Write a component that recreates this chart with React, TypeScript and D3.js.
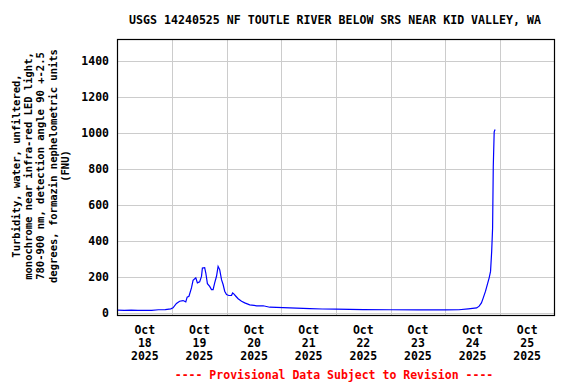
import React from "react";
import * as d3 from "d3";

const TITLE = "USGS 14240525 NF TOUTLE RIVER BELOW SRS NEAR KID VALLEY, WA";
const Y_LABEL_LINES = [
  "Turbidity, water, unfiltered,",
  "monochrome near infra-red LED light,",
  "780-900 nm, detection angle 90 +-2.5",
  "degrees, formazin nephelometric units",
  "(FNU)",
];
const FOOTNOTE = "---- Provisional Data Subject to Revision ----";

const Y_TICKS = [0, 200, 400, 600, 800, 1000, 1200, 1400];
const DAY_LABELS = ["18", "19", "20", "21", "22", "23", "24", "25"];

// hours since 2025-10-18 00:00 and turbidity (FNU)
const HOURS = [
  0, 3, 6, 9, 12, 15, 18, 21, 23.4, 24.4, 25.9, 27.3, 28.8, 30, 30.6, 31.4, 32.5,
  33.2, 34.4, 35.1, 36.1, 36.9, 37.3, 38.3, 38.8, 39.5, 40.5, 41.3, 42, 42.7, 43.5,
  44.2, 44.9, 45.7, 46.4, 47.1, 47.9, 48.9, 50.1, 50.6, 51.1, 52, 53, 54.5, 55.9,
  58.1, 61.1, 64, 66.9, 72.8, 78.6, 84.5, 90, 96, 108, 120, 132, 144, 150, 154.1,
  157.8, 158.9, 159.9, 160.7, 161.7, 162.6, 163.3, 163.9, 164.4, 164.8, 165.1,
  165.5, 165.9,
];
const VALUES = [
  15, 14, 15, 14, 14, 14, 17, 18, 22, 28, 52, 64, 68, 61, 87, 92, 138,
  180, 194, 166, 172, 202, 249, 251, 221, 162, 147, 129, 129, 166, 203,
  258, 240, 184, 157, 120, 101, 96, 97, 110, 105, 92, 78, 64, 55,
  44, 39, 39, 31, 29, 26, 23, 21, 20, 18, 17, 16, 16, 17, 22,
  27, 37, 55, 83, 120, 162, 194, 230, 341, 470, 811,
  1005, 1018,
];

const W = 576;
const H = 384;
const FONT = "'DejaVu Sans Mono', 'Liberation Mono', monospace";

export default function App() {
  const start = new Date(2025, 9, 18, 0, 0);
  const end = new Date(2025, 9, 26, 0, 0);
  const left = 117.5;
  const right = 554.5;
  const top = 39.5;
  const bottom = 315.5;

  const x = d3.scaleTime().domain([start, end]).range([left, right]);
  const y = d3.scaleLinear().domain([-15, 1518]).range([bottom, top]);

  const data = HOURS.map((h, i) => ({
    t: new Date(start.getTime() + h * 3600 * 1000),
    v: VALUES[i],
  }));
  const line = d3
    .line<{ t: Date; v: number }>()
    .x((d) => x(d.t))
    .y((d) => y(d.v));

  const dayLines = d3.timeDay.range(d3.timeDay.offset(start, 1), end);
  const labelDays = DAY_LABELS.map(
    (_, i) => new Date(2025, 9, 18 + i, 12, 0)
  );

  const yLabelCx = 16;
  const yLabelCy = 166;
  const yLabelStep = 12.3;

  return (
    <svg
      width={W}
      height={H}
      style={{ position: "absolute", left: 0, top: 0, background: "#fff" }}
    >
      <rect x={0} y={0} width={W} height={H} fill="#fff" />
      <text
        x={335}
        y={24}
        textAnchor="middle"
        fontFamily={FONT}
        fontWeight="bold"
        fontSize={11.6}
        fill="#000"
      >
        {TITLE}
      </text>

      {/* grid */}
      {Y_TICKS.map((t) => (
        <line
          key={"gy" + t}
          x1={left}
          x2={right}
          y1={Math.round(y(t)) + 0.5}
          y2={Math.round(y(t)) + 0.5}
          stroke="#cccccc"
          strokeWidth={1}
        />
      ))}
      {dayLines.map((d) => (
        <line
          key={"gx" + d.getTime()}
          x1={Math.round(x(d)) + 0.5}
          x2={Math.round(x(d)) + 0.5}
          y1={top}
          y2={bottom}
          stroke="#cccccc"
          strokeWidth={1}
        />
      ))}

      {/* data */}
      <path d={line(data) || ""} fill="none" stroke="#0000ff" strokeWidth={1.2} />

      {/* frame */}
      <rect
        x={left}
        y={top}
        width={right - left}
        height={bottom - top}
        fill="none"
        stroke="#000"
        strokeWidth={1.2}
      />

      {/* y ticks */}
      {Y_TICKS.map((t) => (
        <text
          key={"yt" + t}
          x={109}
          y={y(t)}
          dy="0.36em"
          textAnchor="end"
          fontFamily={FONT}
          fontWeight="bold"
          fontSize={11.5}
          fill="#000"
        >
          {t}
        </text>
      ))}

      {/* x labels */}
      {labelDays.map((d, i) => (
        <text
          key={"xl" + i}
          textAnchor="middle"
          fontFamily={FONT}
          fontWeight="bold"
          fontSize={11.5}
          fill="#000"
        >
          <tspan x={x(d)} y={334}>Oct</tspan>
          <tspan x={x(d)} y={347}>{DAY_LABELS[i]}</tspan>
          <tspan x={x(d)} y={360}>2025</tspan>
        </text>
      ))}

      {/* y label */}
      {Y_LABEL_LINES.map((s, i) => {
        const cx = yLabelCx + i * yLabelStep;
        return (
          <text
            key={"yl" + i}
            transform={`translate(${cx},${yLabelCy}) rotate(-90)`}
            textAnchor="middle"
            dy="0.36em"
            fontFamily={FONT}
            fontWeight="bold"
            fontSize={10.5}
            fill="#000"
          >
            {s}
          </text>
        );
      })}

      <text
        x={334}
        y={379}
        textAnchor="middle"
        fontFamily={FONT}
        fontWeight="bold"
        fontSize={11.5}
        fill="#ff0000"
      >
        {FOOTNOTE}
      </text>
    </svg>
  );
}
